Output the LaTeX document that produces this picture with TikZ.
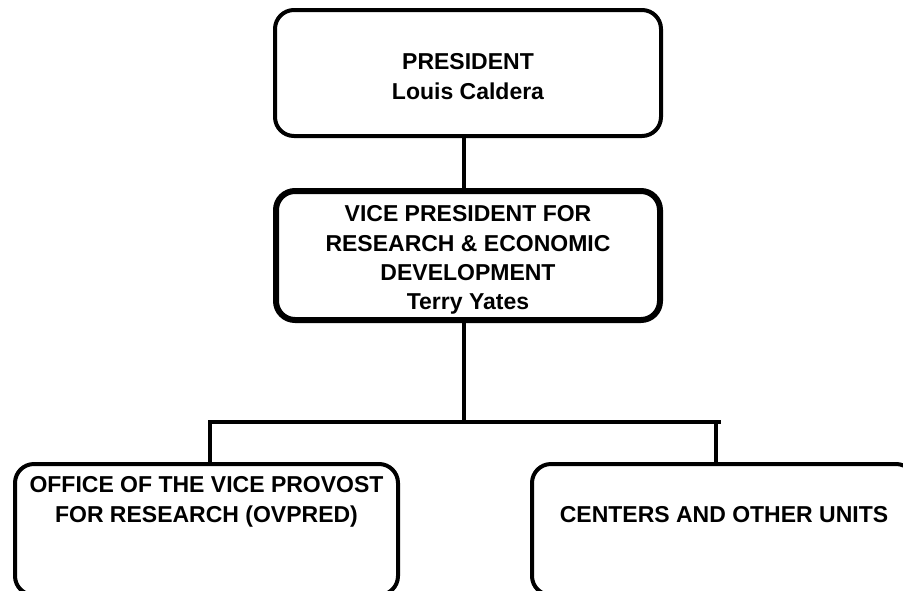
\documentclass[tikz,border=0pt]{standalone}
\usepackage{fontspec}
\setmainfont{Liberation Sans}
\begin{document}
\begin{tikzpicture}[x=1pt,y=-1pt,
  box/.style={draw=black,rounded corners=19pt,inner sep=0pt,fill=none},
  txt/.style={align=center,inner sep=0pt,font=\fontsize{23}{30}\selectfont\bfseries},
  link/.style={line width=4pt}]
\useasboundingbox (0,0) rectangle (903,590);
\clip (0,0) rectangle (903,590);
\fill[white] (0,0) rectangle (903,590);
% boxes
\node[box,line width=4pt,minimum width=386pt,minimum height=126pt] (pres) at (468,73) {};
\node[box,line width=6pt,minimum width=384pt,minimum height=129pt] (vp) at (468,255.5) {};
\node[box,line width=4pt,minimum width=383pt,minimum height=131pt] (ovpred) at (206.5,529.5) {};
\node[box,line width=4pt,minimum width=383pt,minimum height=131pt] (centers) at (723.5,529.5) {};
% texts
\node[txt] (presT) at (468,76.8) {PRESIDENT\\Louis Caldera};
\node[txt,font=\fontsize{23}{29.3}\selectfont\bfseries] (vpT) at (468,260.2) {VICE PRESIDENT FOR\\RESEARCH \& ECONOMIC\\DEVELOPMENT\\Terry Yates};
\node[txt] (ovpredT) at (206.5,502.2) {OFFICE OF THE VICE PROVOST\\FOR RESEARCH (OVPRED)};
\node[txt] (centersT) at (724,514.8) {CENTERS AND OTHER UNITS};
% connector points
\coordinate (spine) at (463.5,422);
\coordinate (busL) at (210,422);
\coordinate (busR) at (716,422);
\coordinate (busEnd) at (721,422);
% connectors
\draw[link] (pres.south -| spine) -- (vp.north -| spine);
\draw[link] (vp.south -| spine) -- (spine);
\draw[link] ([xshift=-2pt]busL) -- (busEnd);
\draw[link] (busL) -- (ovpred.north -| busL);
\draw[link] (busR) -- (centers.north -| busR);
\end{tikzpicture}
\end{document}
